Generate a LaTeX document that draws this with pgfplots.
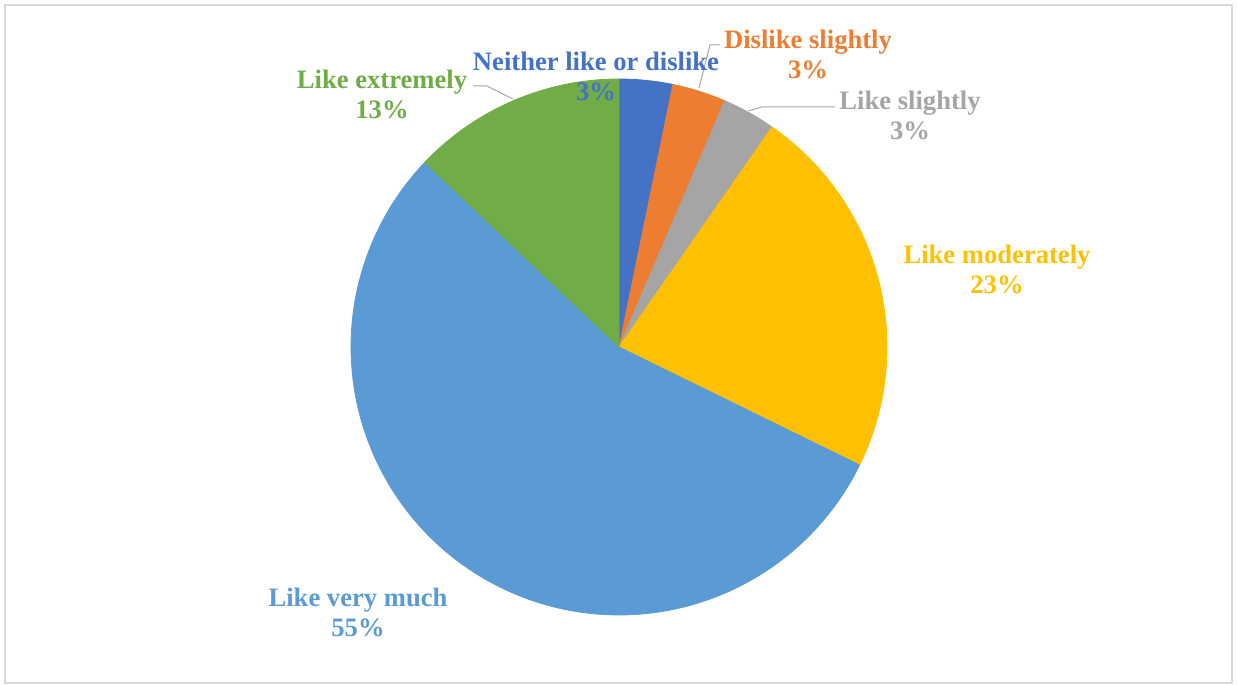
\documentclass[border=0pt]{standalone}
\usepackage{pgfplots}
\usepackage{pgfplotstable}
\pgfplotsset{compat=1.18}
\usepackage{fontspec}
\setmainfont{Liberation Serif}
\definecolor{cA}{HTML}{4472C4}
\definecolor{cB}{HTML}{ED7D31}
\definecolor{cC}{HTML}{A5A5A5}
\definecolor{cD}{HTML}{FFC000}
\definecolor{cE}{HTML}{5B9BD5}
\definecolor{cF}{HTML}{70AD47}
\definecolor{frame}{HTML}{D9D9D9}
\definecolor{leader}{HTML}{A6A6A6}
\pgfplotstableread{
label n
Neither 1
Dislike 1
LikeSl 1
LikeMod 7
LikeVery 17
LikeExt 4
}\piedata
\newcommand\getn[2]{\pgfplotstablegetelem{#1}{n}\of\piedata\global\let#2\pgfplotsretval}
\begin{document}
\begin{tikzpicture}
\getn{0}\nA \getn{1}\nB \getn{2}\nC \getn{3}\nD \getn{4}\nE \getn{5}\nF
\pgfmathsetmacro\tot{\nA+\nB+\nC+\nD+\nE+\nF}
\pgfmathsetmacro\aO{90}
\pgfmathsetmacro\aA{\aO-360*\nA/\tot}
\pgfmathsetmacro\aB{\aA-360*\nB/\tot}
\pgfmathsetmacro\aC{\aB-360*\nC/\tot}
\pgfmathsetmacro\aD{\aC-360*\nD/\tot}
\pgfmathsetmacro\aE{\aD-360*\nE/\tot}
\pgfmathsetmacro\aF{\aE-360*\nF/\tot}
\begin{axis}[
  x=0.5pt, y=0.5pt,
  xmin=0, xmax=1237, ymin=0, ymax=685,
  hide axis, clip=false,
  every axis plot/.append style={line join=round},
]
\path (axis cs:0,0) rectangle (axis cs:1237,685);
\draw[frame, line width=1pt] (axis cs:5,2) rectangle (axis cs:1232,680);
\addplot[fill=cA, draw=cA, domain=\aA:\aO, samples=40, variable=\t] ({619+268*cos(\t)},{338+268*sin(\t)}) -- (axis cs:619,338) -- cycle;
\addplot[fill=cB, draw=cB, domain=\aB:\aA, samples=40, variable=\t] ({619+268*cos(\t)},{338+268*sin(\t)}) -- (axis cs:619,338) -- cycle;
\addplot[fill=cC, draw=cC, domain=\aC:\aB, samples=40, variable=\t] ({619+268*cos(\t)},{338+268*sin(\t)}) -- (axis cs:619,338) -- cycle;
\addplot[fill=cD, draw=cD, domain=\aD:\aC, samples=80, variable=\t] ({619+268*cos(\t)},{338+268*sin(\t)}) -- (axis cs:619,338) -- cycle;
\addplot[fill=cE, draw=cE, domain=\aE:\aD, samples=150, variable=\t] ({619+268*cos(\t)},{338+268*sin(\t)}) -- (axis cs:619,338) -- cycle;
\addplot[fill=cF, draw=cF, domain=\aF:\aE, samples=60, variable=\t] ({619+268*cos(\t)},{338+268*sin(\t)}) -- (axis cs:619,338) -- cycle;
% leader lines
\addplot[leader, line width=0.5pt] coordinates {(473,599) (487,599) (513,586)};
\addplot[leader, line width=0.5pt] coordinates {(720,640) (710,640) (699,597)};
\addplot[leader, line width=0.5pt] coordinates {(835,578) (762,578) (748,574)};
% labels
\begin{scope}[every node/.style={align=center, inner sep=0pt, font=\fontsize{13.3}{15}\selectfont\bfseries}]
\node[text=cA] at (axis cs:596,609) {Neither like or dislike\\3\%};
\node[text=cB] at (axis cs:808,631) {Dislike slightly\\3\%};
\node[text=cC] at (axis cs:910,570) {Like slightly\\3\%};
\node[text=cD] at (axis cs:997,416) {Like moderately\\23\%};
\node[text=cE] at (axis cs:358,73) {Like very much\\55\%};
\node[text=cF] at (axis cs:382,591) {Like extremely\\13\%};
\end{scope}
\end{axis}
\end{tikzpicture}
\end{document}
